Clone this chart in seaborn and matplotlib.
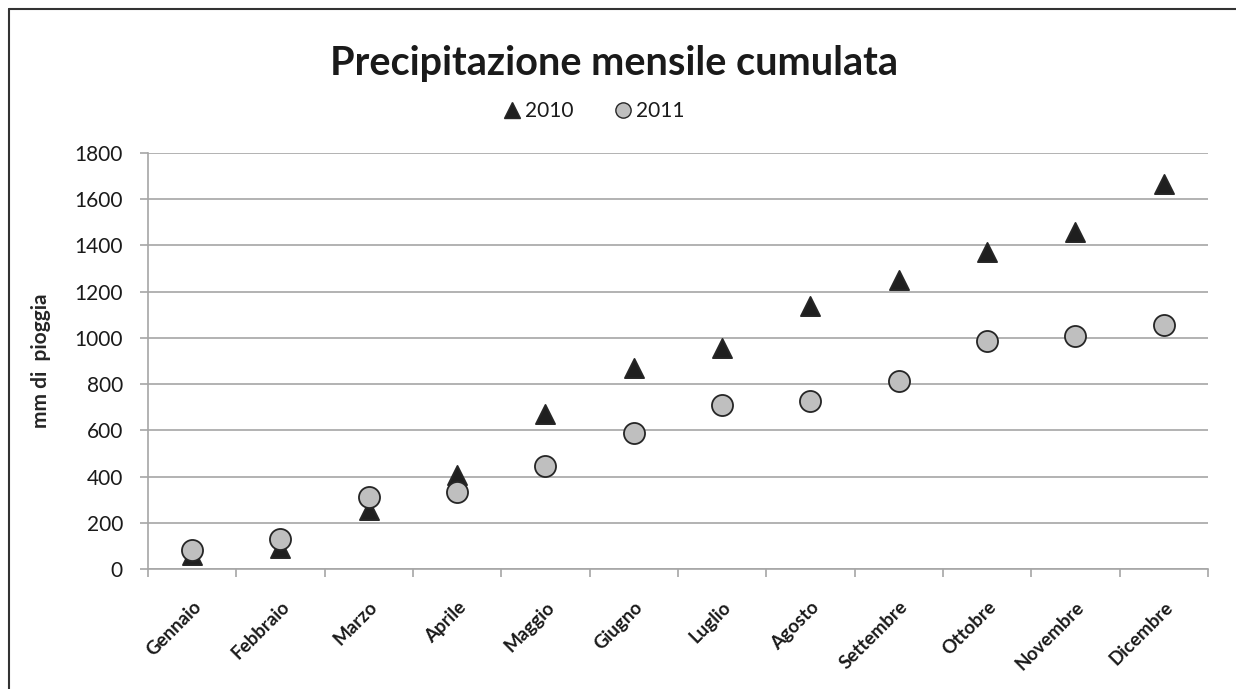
import matplotlib
matplotlib.use("Agg")
import matplotlib.pyplot as plt
from matplotlib.lines import Line2D
from matplotlib.ticker import FixedLocator
import pandas as pd
import seaborn as sns

# --- data -------------------------------------------------------------------
mesi = ["Gennaio", "Febbraio", "Marzo", "Aprile", "Maggio", "Giugno",
        "Luglio", "Agosto", "Settembre", "Ottobre", "Novembre", "Dicembre"]
pioggia_2010 = [60, 90, 255, 407, 670, 870, 956, 1138, 1250, 1372, 1458, 1666]
pioggia_2011 = [80, 130, 313, 333, 446, 588, 710, 727, 813, 987, 1008, 1056]
anni = ["2010", "2011"]
y_ticks = [0, 200, 400, 600, 800, 1000, 1200, 1400, 1600, 1800]

df = pd.DataFrame({
    "mese": mesi * 2,
    "mm": pioggia_2010 + pioggia_2011,
    "anno": ["2010"] * len(mesi) + ["2011"] * len(mesi),
})

sns.set_style("white")
plt.rcParams["font.family"] = ["Lato", "DejaVu Sans"]
plt.rcParams["text.color"] = "#1a1a1a"

fig = plt.figure(figsize=(12.36, 6.89), dpi=100)
ax = fig.add_axes([0.1197, 0.1742, 0.8576, 0.6038])

grid_c = "#a6a6a6"
ax.yaxis.grid(True, color=grid_c, linewidth=1.2)
ax.set_axisbelow(True)

palette = {"2010": "#1f1f1f", "2011": "#bfbfbf"}
markers = {"2010": "^", "2011": "o"}

# 2010 first, 2011 on top (as in the original)
for anno, size in zip(anni, [190, 230]):
    sub = df[df["anno"] == anno]
    sns.scatterplot(data=sub, x="mese", y="mm", ax=ax, color=palette[anno],
                    marker=markers[anno], s=size, edgecolor="#262626",
                    linewidth=1.3, legend=False, zorder=3)

ax.set_xlim(-0.5, len(mesi) - 0.5)
ax.set_ylim(0, 1800)
ax.set_yticks(y_ticks)
ax.tick_params(axis="y", labelsize=15, length=6, color=grid_c, width=1.2,
               left=True, pad=12, labelcolor="#1a1a1a")
ax.xaxis.set_minor_locator(FixedLocator([i - 0.5 for i in range(len(mesi) + 1)]))
ax.tick_params(axis="x", which="major", length=0, pad=21)
ax.tick_params(axis="x", which="minor", length=6, color=grid_c, width=1.2,
               bottom=True)
ax.set_xticks(range(len(mesi)))
ax.set_xticklabels(mesi, rotation=45, ha="right", rotation_mode="anchor",
                   fontsize=13.5, fontweight="bold", color="#1a1a1a")

for side in ["top", "right"]:
    ax.spines[side].set_visible(False)
for side in ["left", "bottom"]:
    ax.spines[side].set_color(grid_c)
    ax.spines[side].set_linewidth(1.2)

ax.set_xlabel("")
ax.set_ylabel("mm di  pioggia", fontsize=15, fontweight="bold", labelpad=17)

fig.text(0.497, 0.908, "Precipitazione mensile cumulata", ha="center",
         va="center", fontsize=28.5, fontweight="bold")

handles = [
    Line2D([], [], linestyle="", marker="^", markersize=11,
           markerfacecolor=palette["2010"], markeredgecolor="#262626",
           label="2010"),
    Line2D([], [], linestyle="", marker="o", markersize=11,
           markerfacecolor=palette["2011"], markeredgecolor="#262626",
           label="2011"),
]
fig.legend(handles=handles, loc="center", bbox_to_anchor=(0.48, 0.839),
           ncol=2, frameon=False, fontsize=15, handletextpad=0.1,
           columnspacing=1.9, handlelength=1.0)

# outer chart frame (left and top edges visible in the original)
fig.add_artist(Line2D([0.0073, 0.0073], [0, 0.987], transform=fig.transFigure,
                      color="#333333", linewidth=1.5))
fig.add_artist(Line2D([0.0073, 1.0], [0.987, 0.987], transform=fig.transFigure,
                      color="#333333", linewidth=1.5))

fig.savefig("out.png", dpi=100, facecolor="white")
